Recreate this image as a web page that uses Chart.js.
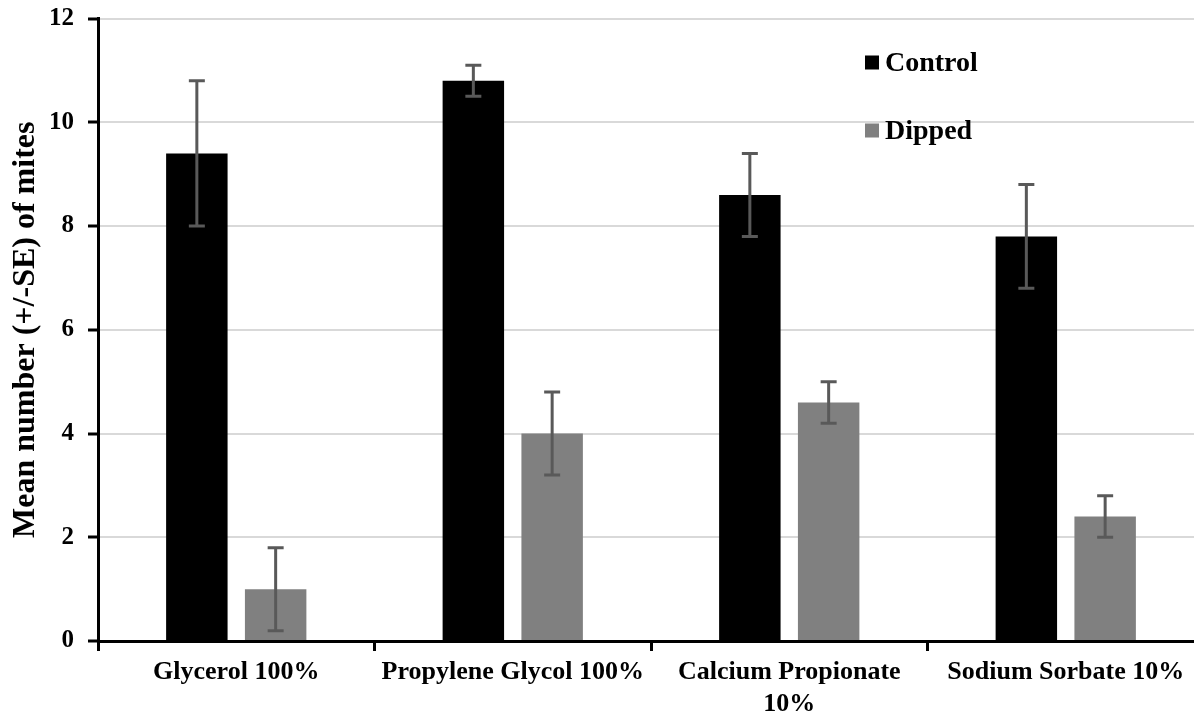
<!DOCTYPE html>
<html>
<head>
<meta charset="utf-8">
<script src="https://cdn.jsdelivr.net/npm/chart.js@4.4.1/dist/chart.umd.min.js"></script>
<style>
  html, body { margin: 0; padding: 0; background: #fff; overflow: hidden; }
  .chart-box { width: 1204px; height: 729px; margin-top: -3px; position: relative; }
</style>
</head>
<body>
<div class="chart-box"><canvas id="mites"></canvas></div>
<script>
const categories = ["Glycerol 100%", "Propylene Glycol 100%", ["Calcium Propionate", "10%"], "Sodium Sorbate 10%"];
const controlMeans = [9.4, 10.8, 8.6, 7.8];
const controlSE = [1.4, 0.3, 0.8, 1.0];
const dippedMeans = [1.0, 4.0, 4.6, 2.4];
const dippedSE = [0.8, 0.8, 0.4, 0.4];
const yTicks = [0, 2, 4, 6, 8, 10, 12];

const serif = "'Liberation Serif', 'Times New Roman', serif";

// draws the +/- SE whiskers on top of each bar
const errorBars = {
  id: "errorBars",
  afterDatasetsDraw(chart) {
    const ctx = chart.ctx;
    const y = chart.scales.y;
    chart.data.datasets.forEach((ds, di) => {
      const meta = chart.getDatasetMeta(di);
      meta.data.forEach((bar, i) => {
        const hi = y.getPixelForValue(ds.data[i] + ds.se[i]);
        const lo = y.getPixelForValue(ds.data[i] - ds.se[i]);
        ctx.save();
        ctx.strokeStyle = "#595959";
        ctx.lineWidth = 3;
        ctx.beginPath();
        ctx.moveTo(bar.x, hi);
        ctx.lineTo(bar.x, lo);
        ctx.moveTo(bar.x - 8, hi);
        ctx.lineTo(bar.x + 8, hi);
        ctx.moveTo(bar.x - 8, lo);
        ctx.lineTo(bar.x + 8, lo);
        ctx.stroke();
        ctx.restore();
      });
    });
  }
};

// legend stacked in the upper right of the plot
const sideLegend = {
  id: "sideLegend",
  afterDraw(chart) {
    const ctx = chart.ctx;
    const area = chart.chartArea;
    const x = 865;
    chart.data.datasets.forEach((ds, i) => {
      const cy = area.top + 44 + i * 68;
      ctx.save();
      ctx.fillStyle = ds.backgroundColor;
      ctx.fillRect(x, cy - 7, 14, 14);
      ctx.fillStyle = "#000";
      ctx.font = "bold 28px " + serif;
      ctx.textBaseline = "middle";
      ctx.fillText(ds.label, x + 20, cy + 1);
      ctx.restore();
    });
  }
};

new Chart(document.getElementById("mites").getContext("2d"), {
  type: "bar",
  data: {
    labels: categories,
    datasets: [
      {
        label: "Control",
        data: controlMeans,
        se: controlSE,
        backgroundColor: "#000000",
        categoryPercentage: 0.57,
        barPercentage: 0.78,
      },
      {
        label: "Dipped",
        data: dippedMeans,
        se: dippedSE,
        backgroundColor: "#808080",
        categoryPercentage: 0.57,
        barPercentage: 0.78,
      },
    ],
  },
  options: {
    responsive: true,
    maintainAspectRatio: false,
    animation: false,
    layout: { padding: { top: 15, right: 0, left: 0, bottom: 0 } },
    scales: {
      x: {
        grid: {
          offset: true,
          drawOnChartArea: false,
          drawTicks: true,
          tickLength: 10,
          tickWidth: 3,
          tickColor: "#000",
        },
        border: { display: true, color: "#000", width: 3 },
        ticks: {
          color: "#000",
          padding: 5,
          maxRotation: 0,
          autoSkip: false,
          font: { family: serif, size: 26, weight: "bold", lineHeight: 1.25 },
        },
      },
      y: {
        min: 0,
        max: 12,
        afterBuildTicks(scale) {
          scale.ticks = yTicks.map((v) => ({ value: v }));
        },
        afterFit(scale) {
          scale.width = 98;
        },
        grid: {
          color: "#d9d9d9",
          lineWidth: 2,
          drawTicks: true,
          tickLength: 10,
          tickWidth: 3,
          tickColor: "#000",
        },
        border: { display: true, color: "#000", width: 3 },
        ticks: {
          color: "#000",
          padding: 14,
          font: { family: serif, size: 25, weight: "bold", lineHeight: 0.6 },
        },
        title: {
          display: true,
          text: "Mean number (+/-SE) of mites",
          color: "#000",
          padding: { top: 7, bottom: 0 },
          font: { family: serif, size: 32, weight: "bold" },
        },
      },
    },
    plugins: {
      legend: { display: false },
      tooltip: { enabled: false },
    },
  },
  plugins: [errorBars, sideLegend],
});
</script>
</body>
</html>
